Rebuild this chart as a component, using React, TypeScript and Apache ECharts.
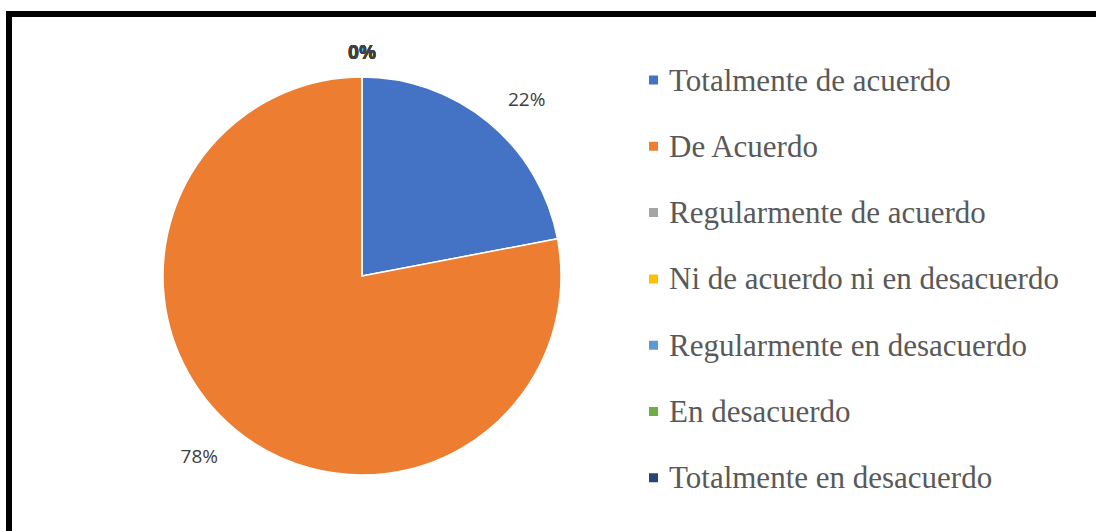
import React, { useEffect, useRef } from "react";
import * as echarts from "echarts";

const categories = [
  "Totalmente de acuerdo",
  "De Acuerdo",
  "Regularmente de acuerdo",
  "Ni de acuerdo ni en desacuerdo",
  "Regularmente en desacuerdo",
  "En desacuerdo",
  "Totalmente en desacuerdo",
];
const values = [22, 78, 0, 0, 0, 0, 0];
const colors = ["#4472C4", "#ED7D31", "#A5A5A5", "#FFC000", "#5B9BD5", "#70AD47", "#264478"];

export default function App() {
  const ref = useRef<HTMLDivElement>(null);
  useEffect(() => {
    if (!ref.current) return;
    const chart = echarts.init(ref.current, null, { renderer: "svg" });
    chart.setOption({
      animation: false,
      backgroundColor: "#ffffff",
      color: colors,
      graphic: [
        {
          type: "rect",
          shape: { x: 9, y: 14, width: 1200, height: 600 },
          style: { fill: "none", stroke: "#000000", lineWidth: 6 },
          silent: true,
        },
      ],
      legend: {
        orient: "vertical",
        left: 647,
        top: 64.5,
        padding: 0,
        itemWidth: 11,
        itemHeight: 11,
        itemGap: 35.3,
        icon: "rect",
        data: categories,
        textStyle: {
          fontFamily: "'Liberation Serif', 'Times New Roman', serif",
          fontSize: 31,
          lineHeight: 31,
          color: "#595959",
          padding: [0, 0, 0, 5],
        },
      },
      series: [
        {
          type: "pie",
          center: [362, 276],
          radius: 199,
          startAngle: 90,
          avoidLabelOverlap: false,
          itemStyle: { borderColor: "#ffffff", borderWidth: 1.5 },
          label: {
            show: true,
            position: "outside",
            formatter: "{d}%",
            fontFamily: "'Open Sans', 'Noto Sans', sans-serif",
            fontSize: 19,
            color: "#404040",
          },
          labelLine: { show: false, length: 30, length2: 0 },
          labelLayout: (params: any) => {
            if (params.dataIndex === 0) return { dx: -5, dy: -1 };
            if (params.dataIndex === 1) return { dx: 7, dy: 4 };
            return { align: "center", dx: -5, dy: 5 };
          },
          data: categories.map((name, i) => ({
            name,
            value: values[i],
            label: values[i] === 0 ? { fontWeight: "bold" } : undefined,
          })),
        },
      ],
    });
    return () => chart.dispose();
  }, []);
  return (
    <div
      ref={ref}
      style={{ position: "fixed", left: 0, top: 0, width: 1096, height: 531 }}
    />
  );
}
